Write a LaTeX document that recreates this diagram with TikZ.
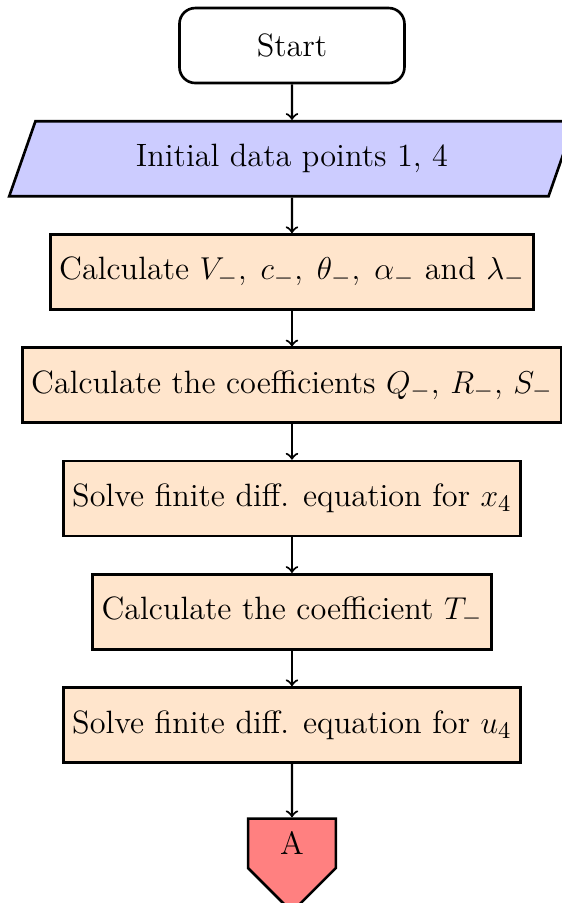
\documentclass[tikz,border=0pt]{standalone}
\usepackage{amsmath,amssymb}
\usepackage{tikz}
\usetikzlibrary{shapes.geometric,shapes.symbols}

\begin{document}
\begin{tikzpicture}[every node/.style={font=\fontsize{12.25}{15}\selectfont}, >=to,
	startstop/.style={draw, line width=1pt, rounded corners=6pt, fill=white, minimum width=3cm, minimum height=1cm},
	io/.style={draw, line width=1pt, trapezium, trapezium left angle=70, trapezium right angle=110, fill=blue!20, minimum width=7.55cm, minimum height=1cm, trapezium stretches=true},
	process/.style={draw, line width=1pt, fill=orange!20, minimum width=3cm, minimum height=1cm},
	connector/.style={draw, line width=1pt, signal, signal to=south, signal pointer angle=90, fill=red!50, minimum width=1.17cm, inner xsep=2pt, inner ysep=5pt}]
	\useasboundingbox (-3.893,0.607) rectangle (3.6,-11.433);
	\node[startstop] (start) at (0,0) {Start};
	\node[io] (data) at (0,-1.51) {Initial data points 1, 4};
	\node[process] (calcV) at (0,-3.02) {Calculate $V_-,\;c_-,\;\theta_-,\;\alpha_-$ and $\lambda_-$};
	\node[process] (calcQ) at (0,-4.53) {Calculate the coefficients $Q_-$, $R_-$, $S_-$};
	\node[process] (solveX) at (0,-6.04) {Solve finite diff. equation for $x_4$};
	\node[process] (calcT) at (0,-7.55) {Calculate the coefficient $T_-$};
	\node[process] (solveU) at (0,-9.06) {Solve finite diff. equation for $u_4$};
	\node[connector, anchor=north] (A) at (0,-10.29) {A};
	\draw[->, thick] (start) -- (data);
	\draw[->, thick] (data) -- (calcV);
	\draw[->, thick] (calcV) -- (calcQ);
	\draw[->, thick] (calcQ) -- (solveX);
	\draw[->, thick] (solveX) -- (calcT);
	\draw[->, thick] (calcT) -- (solveU);
	\draw[->, thick] (solveU) -- (A);
\end{tikzpicture}
\end{document}
